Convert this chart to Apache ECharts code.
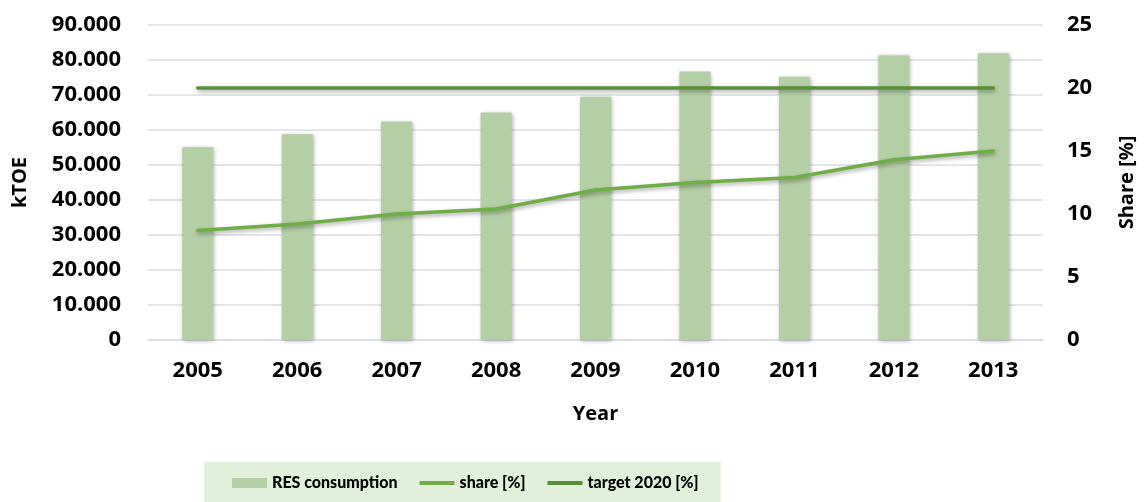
<!DOCTYPE html>
<html><head><meta charset="utf-8">
<script src="https://cdn.jsdelivr.net/npm/echarts@6/dist/echarts.min.js"></script>
<style>html,body{margin:0;padding:0;background:#fff}#c{width:1145px;height:502px}</style>
</head><body><div id="c"></div>
<script>
var years = ['2005','2006','2007','2008','2009','2010','2011','2012','2013'];
var resConsumption = [55100, 58800, 62400, 65000, 69500, 76700, 75200, 81300, 81900];
var sharePct = [8.7, 9.2, 10.0, 10.4, 11.9, 12.5, 12.9, 14.3, 15.0];
var target2020 = [20, 20, 20, 20, 20, 20, 20, 20, 20];
var leftTicks = [0, 90000, 10000];
var rightTicks = [0, 25, 5];

var FONT = '"Open Sans"';
var LFONT = 'Lato';
var chart = echarts.init(document.getElementById('c'));
var shadow = {shadowBlur: 4, shadowColor: 'rgba(0,0,0,0.35)', shadowOffsetX: 1, shadowOffsetY: 2};
var lineIcon = 'path://M0,0 L35,0 L35,4 L0,4 Z';
chart.setOption({
  animation: false,
  textStyle: {fontFamily: FONT},
  grid: {left: 148, right: 95, top: 25, bottom: 162},
  legend: {
    left: 204, top: 462,
    backgroundColor: '#e2efda',
    padding: [13, 22, 14, 28],
    itemGap: 22, itemWidth: 35, itemHeight: 10,
    textStyle: {fontFamily: LFONT, fontWeight: 900, fontSize: 16, color: '#000'},
    data: [
      {name: 'RES consumption', icon: 'rect'},
      {name: 'share [%]', icon: lineIcon},
      {name: 'target 2020 [%]', icon: lineIcon}
    ]
  },
  xAxis: {
    type: 'category', data: years,
    name: 'Year', nameLocation: 'middle', nameGap: 64,
    nameTextStyle: {fontFamily: FONT, fontWeight: 'bold', fontSize: 20, color: '#000'},
    axisLine: {lineStyle: {color: '#d9dce3', width: 1.5}},
    axisTick: {show: false},
    axisLabel: {fontFamily: FONT, fontWeight: 'bold', fontSize: 22, color: '#000', margin: 20}
  },
  yAxis: [
    {
      type: 'value', min: leftTicks[0], max: leftTicks[1], interval: leftTicks[2],
      name: 'kTOE', nameLocation: 'middle', nameGap: 118, nameRotate: 90,
      nameTextStyle: {fontFamily: FONT, fontWeight: 'bold', fontSize: 20, color: '#000'},
      axisLine: {show: false}, axisTick: {show: false},
      splitLine: {lineStyle: {color: '#d9dce3', width: 1.5}},
      axisLabel: {fontFamily: FONT, fontWeight: 'bold', fontSize: 22, color: '#000', margin: 27,
        formatter: function (v) { return v === 0 ? '0' : (v / 1000) + '.000'; }}
    },
    {
      type: 'value', min: rightTicks[0], max: rightTicks[1], interval: rightTicks[2],
      name: 'Share [%]', nameLocation: 'middle', nameGap: 74, nameRotate: 90,
      nameTextStyle: {fontFamily: FONT, fontWeight: 'bold', fontSize: 20, color: '#000'},
      axisLine: {show: false}, axisTick: {show: false}, splitLine: {show: false},
      axisLabel: {fontFamily: FONT, fontWeight: 'bold', fontSize: 22, color: '#000', margin: 24}
    }
  ],
  series: [
    {
      name: 'RES consumption', type: 'bar', yAxisIndex: 0, data: resConsumption,
      barWidth: 31,
      itemStyle: {color: '#b4cea5', shadowBlur: 4, shadowColor: 'rgba(0,0,0,0.3)', shadowOffsetX: 1, shadowOffsetY: 1}
    },
    {
      name: 'share [%]', type: 'line', yAxisIndex: 1, data: sharePct,
      symbol: 'none', itemStyle: {color: '#70ad47'},
      lineStyle: Object.assign({color: '#70ad47', width: 3.5, cap: 'round'}, shadow)
    },
    {
      name: 'target 2020 [%]', type: 'line', yAxisIndex: 1, data: target2020,
      symbol: 'none', itemStyle: {color: '#5a8f3a'},
      lineStyle: Object.assign({color: '#5a8f3a', width: 3.5, cap: 'round'}, shadow)
    }
  ]
});
</script></body></html>
